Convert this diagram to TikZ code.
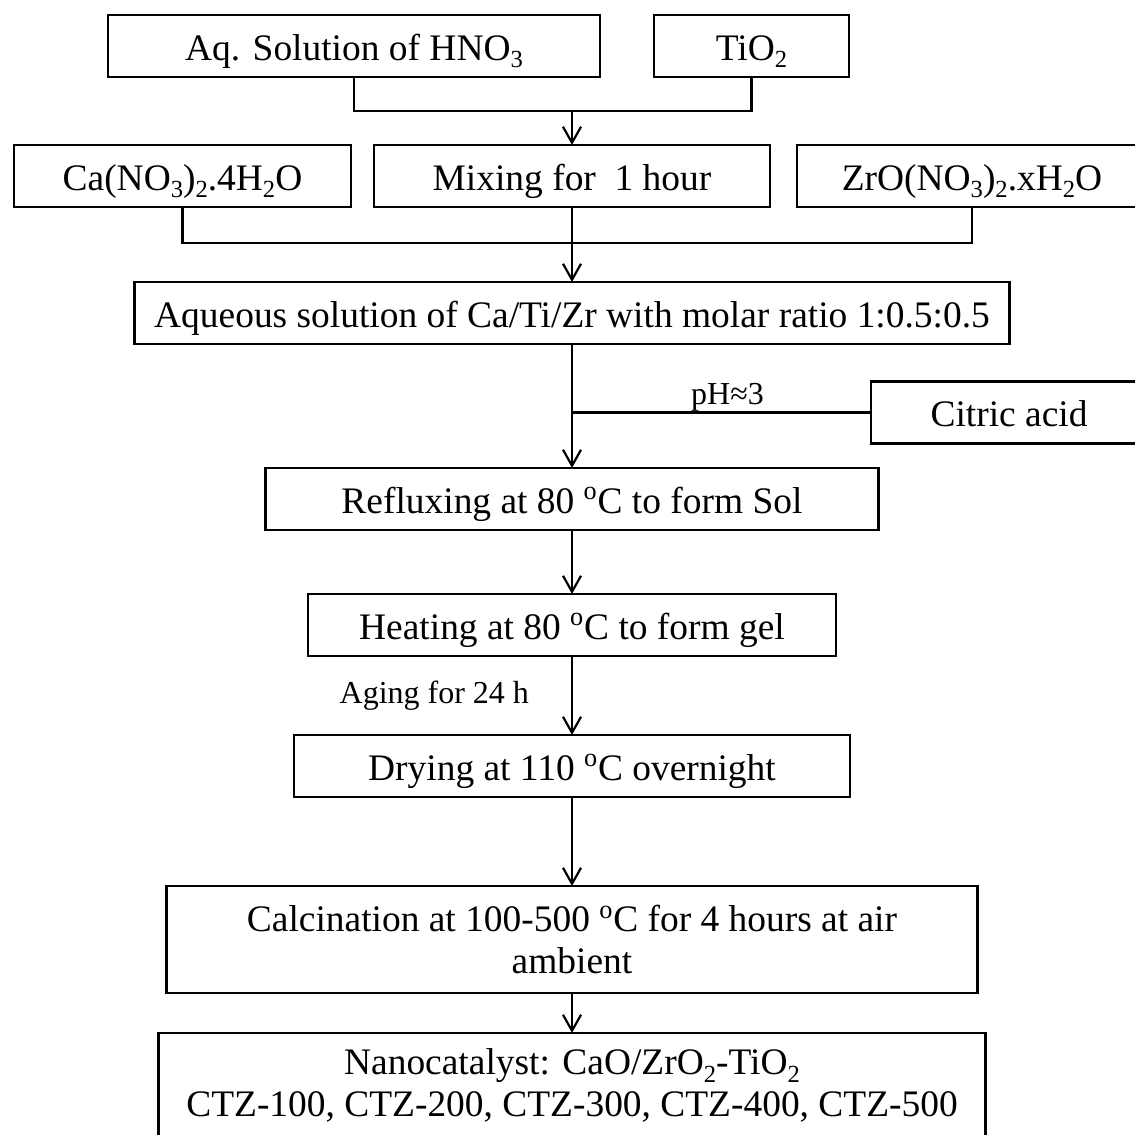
\documentclass[tikz,border=0pt]{standalone}
\usepackage{fontspec}
\setmainfont{Liberation Serif}
\usetikzlibrary{arrows.meta,positioning}

\newcommand{\chsub}[1]{\raisebox{-4.5pt}{\fontsize{14}{14}\selectfont #1}}

\begin{document}
\begin{tikzpicture}[>={Straight Barb[length=0.32cm,width=0.36cm]}, line width=1.25pt, node distance=1.5cm,
    box/.style={draw, rectangle, minimum height=1.24cm, inner sep=0pt, outer sep=0pt, align=center, font=\fontsize{21.3}{24}\selectfont},
    stepbox/.style={box, text height=0.66cm, text depth=0.1cm},
    note/.style={inner sep=0pt, font=\fontsize{18.2}{21}\selectfont}]
    \clip (0,0) rectangle (22.7,-22.68);

    % Nodes {hno3, tio2, cano3, mixing, zrno3, ...}
    \node [stepbox, minimum width=9.84cm]              (hno3)   at (7.08,-0.92)  {Aq. Solution of HNO\chsub{3}};
    \node [stepbox, minimum width=3.9cm]               (tio2)   [right=1.08cm of hno3] {TiO\chsub{2}};
    \node [stepbox, minimum width=7.92cm]              (mixing) at (11.44,-3.52) {Mixing for\ \ 1 hour};
    \node [stepbox, minimum width=6.74cm]              (cano3)  [left=0.46cm of mixing]  {Ca(NO\chsub{3})\chsub{2}.4H\chsub{2}O};
    \node [stepbox, minimum width=7cm]                 (zrno3)  [right=0.54cm of mixing] {ZrO(NO\chsub{3})\chsub{2}.xH\chsub{2}O};
    \node [stepbox, minimum width=17.5cm]              (aqsol)  [below=1.5cm of mixing]  {Aqueous solution of Ca/Ti/Zr with molar ratio 1:0.5:0.5};
    \node [stepbox, minimum width=5.52cm, anchor=west] (citric) at (17.42,-8.25) {Citric acid};
    \node [stepbox, minimum width=12.26cm]             (reflux) [below=2.48cm of aqsol]  {Refluxing at 80 \textsuperscript{o}C to form Sol};
    \node [stepbox, minimum width=10.56cm]             (heat)   [below=1.28cm of reflux] {Heating at 80 \textsuperscript{o}C to form gel};
    \node [stepbox, minimum width=11.12cm]             (dry)    [below=1.58cm of heat]   {Drying at 110 \textsuperscript{o}C overnight};
    \node [box, minimum width=16.22cm, minimum height=2.14cm] (calc) [below=1.78cm of dry] {Calcination at 100-500 \textsuperscript{o}C for 4 hours at air\\ambient};
    \node [box, minimum width=16.54cm, minimum height=2.1cm]  (nano) [below=0.8cm of calc] {Nanocatalyst: CaO/ZrO\chsub{2}-TiO\chsub{2}\\CTZ-100, CTZ-200, CTZ-300, CTZ-400, CTZ-500};

    % Joints
    \coordinate (j1) at (11.44,-2.22);
    \coordinate (j2) at (11.44,-4.86);

    % Paths
    \draw (hno3.south) |- (j1) -| (tio2.south);
    \path [->] (j1) edge (mixing);
    \draw (cano3.south) |- (j2) -| (zrno3.south);
    \path [->] (mixing) edge (aqsol);
    \draw (citric.west) -- (citric.west -| aqsol.south) node [note, pos=0.48, above, text depth=0pt, yshift=0.14cm] {pH≈3};
    \path [->] (aqsol) edge (reflux);
    \path [->] (reflux) edge (heat);
    \path [->] (heat) edge node [note, left=0.84cm] {Aging for 24 h} (dry);
    \path [->] (dry) edge (calc);
    \path [->] (calc) edge (nano);
\end{tikzpicture}
\end{document}
